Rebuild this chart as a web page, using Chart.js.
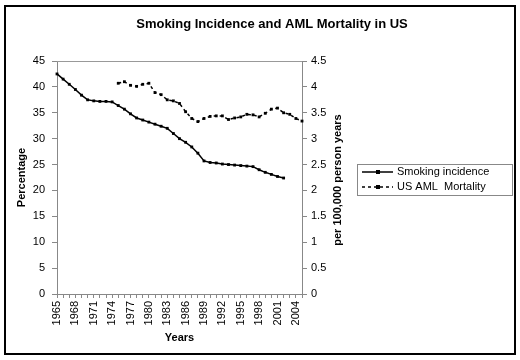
<!DOCTYPE html>
<html>
<head>
<meta charset="utf-8">
<script src="https://cdn.jsdelivr.net/npm/chart.js@4.4.0/dist/chart.umd.min.js"></script>
<style>
  html, body { margin: 0; padding: 0; background: #fff; }
  #wrap { width: 520px; height: 360px; }
</style>
</head>
<body>
<div id="wrap"><canvas id="chart" width="520" height="360"></canvas></div>
<script>
// years on the category axis
const years = [];
for (let y = 1965; y <= 2005; y++) years.push(String(y));

// smoking incidence (%), 1965-2002
const smoking = [42.5, 41.5, 40.5, 39.5, 38.4, 37.5, 37.3, 37.2, 37.2, 37.1,
  36.4, 35.7, 34.8, 34.0, 33.6, 33.2, 32.8, 32.4, 32.0, 31.0,
  30.0, 29.3, 28.4, 27.2, 25.7, 25.4, 25.3, 25.1, 25.0, 24.9,
  24.8, 24.7, 24.6, 24.0, 23.5, 23.1, 22.7, 22.4, null, null, null];

// US AML mortality (per 100,000 person years), 1975-2005
const amlMortality = [null, null, null, null, null, null, null, null, null, null,
  4.07, 4.10, 4.03, 4.01, 4.05, 4.07, 3.89, 3.85, 3.75, 3.73,
  3.68, 3.52, 3.39, 3.33, 3.39, 3.43, 3.44, 3.44, 3.37, 3.40,
  3.42, 3.47, 3.46, 3.42, 3.49, 3.57, 3.59, 3.50, 3.47, 3.39, 3.34];

const chartTitle = "Smoking Incidence and AML Mortality in US";
const rightTitle = "per 100,000 person years";
const FONT = "'Liberation Sans', Arial, sans-serif";

const decor = {
  id: "decor",
  beforeDraw(chart) {
    const ctx = chart.ctx;
    ctx.save();
    ctx.fillStyle = "#fff";
    ctx.fillRect(0, 0, chart.width, chart.height);
    ctx.restore();
  },
  afterDraw(chart) {
    const ctx = chart.ctx;
    const a = chart.chartArea;
    ctx.save();
    // outer frame
    ctx.strokeStyle = "#000";
    ctx.lineWidth = 2;
    ctx.strokeRect(5, 6, 510, 348);
    // plot area top border
    ctx.strokeStyle = "#999";
    ctx.lineWidth = 1;
    ctx.beginPath();
    ctx.moveTo(a.left, a.top + 0.5);
    ctx.lineTo(a.right, a.top + 0.5);
    ctx.stroke();
    // title
    ctx.fillStyle = "#000";
    ctx.font = "bold 13px " + FONT;
    ctx.textAlign = "center";
    ctx.textBaseline = "middle";
    ctx.fillText(chartTitle, 272, 24);
    // right axis title, reading upward
    ctx.save();
    ctx.translate(338, 180);
    ctx.rotate(-Math.PI / 2);
    ctx.font = "bold 11px " + FONT;
    ctx.fillText(rightTitle, 0, 0);
    ctx.restore();
    // legend
    ctx.fillStyle = "#fff";
    ctx.fillRect(357, 164, 155, 31);
    ctx.strokeStyle = "#888";
    ctx.strokeRect(357.5, 164.5, 155, 31);
    chart.data.datasets.forEach((ds, i) => {
      const y = 172 + i * 15;
      ctx.strokeStyle = ds.borderColor;
      ctx.lineWidth = ds.borderWidth;
      ctx.setLineDash(ds.borderDash || []);
      ctx.beginPath();
      ctx.moveTo(362, y);
      ctx.lineTo(393, y);
      ctx.stroke();
      ctx.setLineDash([]);
      ctx.fillStyle = "#000";
      ctx.fillRect(376, y - 2, 4, 4);
      ctx.font = "11px " + FONT;
      ctx.textAlign = "left";
      ctx.fillText(ds.label, 397, y);
    });
    ctx.restore();
  }
};

new Chart(document.getElementById("chart"), {
  type: "line",
  data: {
    labels: years,
    datasets: [
      {
        label: "Smoking incidence",
        data: smoking,
        yAxisID: "y",
        borderColor: "#000",
        backgroundColor: "#000",
        borderWidth: 1.5,
        pointStyle: "rect",
        pointRadius: 2,
        pointBorderWidth: 0,
        tension: 0
      },
      {
        label: "US AML  Mortality",
        data: amlMortality,
        yAxisID: "y1",
        borderColor: "#000",
        backgroundColor: "#000",
        borderWidth: 1.5,
        borderDash: [3, 3],
        pointStyle: "rect",
        pointRadius: 2,
        pointBorderWidth: 0,
        tension: 0
      }
    ]
  },
  options: {
    responsive: false,
    animation: false,
    layout: { padding: { top: 61, left: 11, right: 168, bottom: 6 } },
    plugins: {
      legend: { display: false },
      title: { display: false },
      tooltip: { enabled: false }
    },
    scales: {
      x: {
        offset: false,
        afterFit(s) { s.height = 60; },
        grid: { drawOnChartArea: false, tickLength: 4, color: "#888" },
        border: { color: "#888" },
        ticks: {
          autoSkip: false,
          minRotation: 90,
          maxRotation: 90,
          padding: 3,
          color: "#000",
          font: { family: FONT, size: 11 },
          callback(v, i) { return (i % 3 === 0) ? years[i] : ""; }
        },
        title: {
          display: true,
          text: "Years",
          color: "#000",
          font: { family: FONT, size: 11, weight: "bold" },
          padding: { top: 4, bottom: 9 }
        }
      },
      y: {
        position: "left",
        min: 0,
        max: 45,
        afterFit(s) { s.width = 46; },
        grid: { drawOnChartArea: false, tickLength: 5, color: "#888" },
        border: { color: "#888" },
        ticks: {
          stepSize: 5,
          padding: 7,
          color: "#000",
          font: { family: FONT, size: 11 }
        },
        title: {
          display: true,
          text: "Percentage",
          color: "#000",
          font: { family: FONT, size: 11, weight: "bold" },
          padding: { top: 4, bottom: 4 }
        }
      },
      y1: {
        position: "right",
        min: 0,
        max: 4.5,
        afterFit(s) { s.width = 50; },
        grid: { drawOnChartArea: false, tickLength: 5, color: "#888" },
        border: { color: "#888" },
        ticks: {
          stepSize: 0.5,
          padding: 4,
          color: "#000",
          font: { family: FONT, size: 11 },
          callback(v) { return String(Math.round(v * 10) / 10); }
        }
      }
    }
  },
  plugins: [decor]
});
</script>
</body>
</html>
